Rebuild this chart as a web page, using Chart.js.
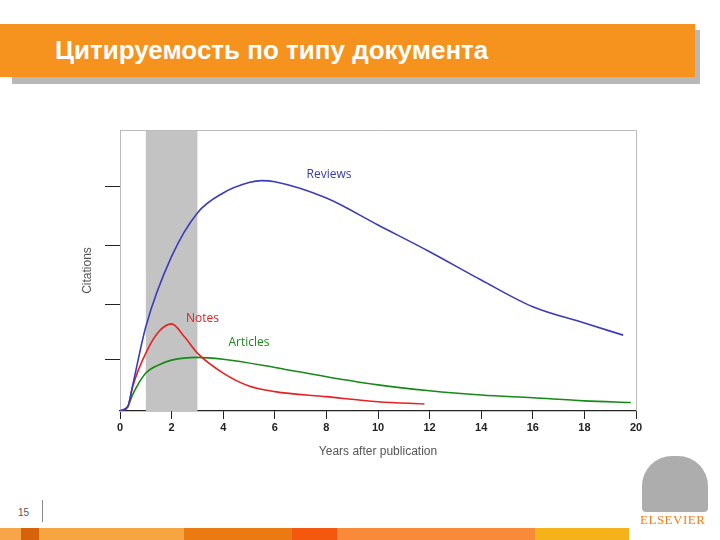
<!DOCTYPE html>
<html><head><meta charset="utf-8">
<script src="https://cdn.jsdelivr.net/npm/chart.js@4/dist/chart.umd.min.js"></script>
<style>
body{margin:0;width:720px;height:540px;position:relative;background:#fff;font-family:"Liberation Sans",Arial,sans-serif;overflow:hidden}
#shadow{position:absolute;left:12px;top:30px;width:688px;height:54px;background:#b8b8b8}
#bar{position:absolute;left:0;top:24px;width:695px;height:53px;background:#f6921e}
#title{position:absolute;left:55px;top:30px;color:#fff;font-size:26px;font-weight:bold;line-height:40px}
#wrap{position:absolute;left:70px;top:100px;width:590px;height:380px}
#pg{position:absolute;left:18px;top:507px;font-size:10px;color:#555}
#pgl{position:absolute;left:42px;top:500px;width:1px;height:22px;background:#888}
.s{position:absolute;top:528px;height:12px}
#logo{position:absolute;left:642px;top:456px;width:66px;height:56px;background:#8a8a8a;border-radius:30px 30px 4px 4px;opacity:.7}
#els{position:absolute;left:640px;top:512px;font-family:"Liberation Serif",serif;color:#f07f1a;font-size:13px;letter-spacing:0.5px}
</style></head><body>
<div id="shadow"></div><div id="bar"></div>
<div id="title">Цитируемость по типу документа</div>
<div id="wrap"><canvas id="c"></canvas></div>
<div id="pg">15</div><div id="pgl"></div>
<div class="s" style="left:0;width:21px;background:#f7a548"></div>
<div class="s" style="left:21px;width:18px;background:#d8620c"></div>
<div class="s" style="left:39px;width:145px;background:#f7a540"></div>
<div class="s" style="left:184px;width:108px;background:#ec7a12"></div>
<div class="s" style="left:292px;width:45px;background:#f4580f"></div>
<div class="s" style="left:337px;width:198px;background:#f98a3a"></div>
<div class="s" style="left:535px;width:94px;background:#f5b21a"></div>
<div id="logo"></div><div id="els">ELSEVIER</div>
<script>
const reviewsX=[0,0.3,0.5,1,2,3,4,5,5.5,6,8,10,12,14,16,18,19.5];
const reviewsY=[0,1.5,9.5,30,55,70.5,77.6,81.3,82,81.6,75.8,66.2,56.7,46.6,37.1,31.3,27];
const notesX=[0,0.3,0.5,1,1.5,2,2.5,3,4,5,6,8,10,11.8];
const notesY=[0,1.5,9,20.6,28.2,31,26.4,20.6,13.5,8.9,6.9,5.1,3.3,2.5];
const articlesX=[0,0.3,0.5,1,1.5,2,3,4,6,8,10,12,14,16,18,19.8];
const articlesY=[0,1.5,6,13.5,16.4,18.1,19.1,18.4,15.5,12.2,9.3,7.2,5.7,4.7,3.6,3];
const yTickValues=[18.5,38,59,80];
const bandRange=[1,3];
const labels=[{t:"Reviews",x:8.1,y:84,c:"#3a3ab0"},{t:"Notes",x:3.2,y:33,c:"#e02020"},{t:"Articles",x:5,y:24.5,c:"#1a8a1a"}];
const pts=(xs,ys)=>xs.map((x,i)=>({x,y:ys[i]}));
const deco={id:'deco',
 beforeDatasetsDraw(ch){const {ctx,chartArea:a,scales:{x}}=ch;ctx.save();ctx.fillStyle='#c3c3c3';
  const x1=x.getPixelForValue(bandRange[0]),x2=x.getPixelForValue(bandRange[1]);ctx.fillRect(x1,a.top,x2-x1,a.bottom-a.top);
  ctx.strokeStyle='#bbb';ctx.lineWidth=1;ctx.beginPath();ctx.moveTo(a.left,a.top+0.5);ctx.lineTo(a.right+0.5,a.top+0.5);ctx.lineTo(a.right+0.5,a.bottom);ctx.stroke();ctx.restore();},
 afterDatasetsDraw(ch){const {ctx,scales:{x,y}}=ch;ctx.save();ctx.font='12px "Open Sans",sans-serif';ctx.textAlign='center';ctx.textBaseline='middle';
  labels.forEach(l=>{ctx.fillStyle=l.c;ctx.fillText(l.t,x.getPixelForValue(l.x),y.getPixelForValue(l.y));});ctx.restore();}};
const ds=(label,d,c)=>({label,data:d,borderColor:c,borderWidth:1.6,pointRadius:0,cubicInterpolationMode:'monotone',fill:false});
new Chart(document.getElementById('c'),{type:'line',
 data:{datasets:[ds('Reviews',pts(reviewsX,reviewsY),'#3c3cb8'),ds('Notes',pts(notesX,notesY),'#e52222'),ds('Articles',pts(articlesX,articlesY),'#168a16')]},
 options:{responsive:true,maintainAspectRatio:false,animation:false,
  layout:{padding:{top:30,right:24,left:10,bottom:17}},
  plugins:{legend:{display:false},tooltip:{enabled:false}},
  scales:{
   x:{type:'linear',min:0,max:20,ticks:{stepSize:2,color:'#222',font:{size:11,weight:'bold'},padding:2},
      grid:{drawOnChartArea:false,tickLength:8,color:'#222'},border:{color:'#222',width:1.2},
      title:{display:true,text:'Years after publication',color:'#555',font:{size:12},padding:{top:4}},
      afterFit(s){s.height=52;}},
   y:{min:0,max:100,afterBuildTicks(s){s.ticks=yTickValues.map(v=>({value:v}));},
      ticks:{display:false},grid:{drawOnChartArea:false,tickLength:15,color:'#222',lineWidth:1},
      border:{color:'#bbb'},
      title:{display:true,text:'Citations',color:'#555',font:{size:12},padding:0},
      afterFit(s){s.width=40;}}
  }},plugins:[deco]});
</script></body></html>
